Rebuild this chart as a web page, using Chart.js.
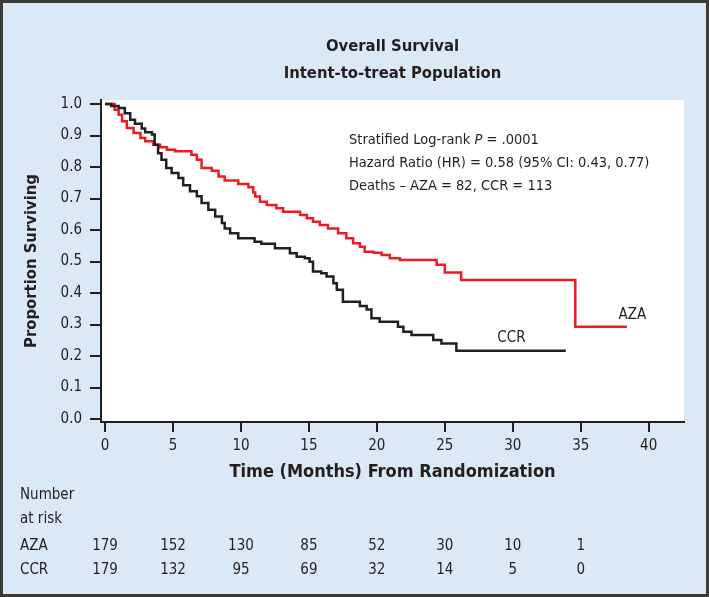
<!DOCTYPE html>
<html>
<head>
<meta charset="utf-8">
<script src="https://cdn.jsdelivr.net/npm/chart.js@4.4.1/dist/chart.umd.min.js"></script>
<style>
  html, body { margin: 0; padding: 0; background: #dbe8f5; }
  #wrap { width: 709px; height: 597px; }
</style>
</head>
<body>
<div id="wrap"><canvas id="chart" width="709" height="597"></canvas></div>
<script>
// Kaplan-Meier steps (month of drop, survival after drop)
const azaMonths = [0, 0.7, 1.0, 1.25, 1.6, 2.1, 2.6, 2.95, 3.55, 4.05,
  4.55, 5.15, 6.35, 6.75, 7.1, 7.85, 8.35, 8.8, 9.8, 10.55,
  10.9, 11.05, 11.4, 11.9, 12.6, 13.1, 14.35, 14.85, 15.3, 15.8,
  16.4, 17.15, 17.75, 18.25, 18.75, 19.1, 19.75, 20.35, 20.95, 21.7,
  24.4, 25.0, 26.2, 34.6, 38.4];
const azaSurvival = [1.0, 0.982, 0.966, 0.945, 0.924, 0.908, 0.892, 0.882, 0.871, 0.863,
  0.855, 0.850, 0.839, 0.823, 0.797, 0.788, 0.770, 0.757, 0.746, 0.736,
  0.719, 0.706, 0.690, 0.679, 0.669, 0.658, 0.648, 0.637, 0.626, 0.616,
  0.605, 0.590, 0.574, 0.558, 0.547, 0.531, 0.528, 0.521, 0.510, 0.505,
  0.490, 0.465, 0.441, 0.293, 0.293];

const ccrMonths = [0, 0.45, 1.0, 1.45, 1.85, 2.2, 2.7, 2.95, 3.45, 3.65,
  3.9, 4.15, 4.5, 4.9, 5.4, 5.75, 6.25, 6.75, 7.1, 7.6,
  8.1, 8.6, 8.8, 9.2, 9.8, 11.0, 11.5, 12.5, 13.6, 14.1,
  14.7, 15.05, 15.3, 15.9, 16.3, 16.8, 17.05, 17.5, 18.75, 19.25,
  19.6, 20.2, 21.55, 21.95, 22.55, 24.15, 24.75, 25.85, 33.9];
const ccrSurvival = [1.0, 0.994, 0.987, 0.971, 0.950, 0.937, 0.922, 0.910, 0.903, 0.871,
  0.844, 0.823, 0.797, 0.781, 0.765, 0.742, 0.723, 0.707, 0.686, 0.664,
  0.643, 0.622, 0.605, 0.590, 0.574, 0.563, 0.556, 0.542, 0.526, 0.515,
  0.510, 0.499, 0.468, 0.463, 0.452, 0.431, 0.410, 0.372, 0.359, 0.348,
  0.320, 0.309, 0.293, 0.277, 0.267, 0.251, 0.240, 0.217, 0.217];

// number at risk table
const riskMonths = [0, 5, 10, 15, 20, 25, 30, 35];
const azaAtRisk = [179, 152, 130, 85, 52, 30, 10, 1];
const ccrAtRisk = [179, 132, 95, 69, 32, 14, 5, 0];

const titleLines = ["Overall Survival", "Intent-to-treat Population"];
const statLines = [
  ["Stratified Log-rank ", "P", " = .0001"],
  ["Hazard Ratio (HR) = 0.58 (95% CI: 0.43, 0.77)"],
  ["Deaths \u2013 AZA = 82, CCR = 113"]
];

const FONT = "'Liberation Sans Narrow', 'Arial Narrow', 'DejaVu Sans Condensed', sans-serif";
const INK = "#231f20";
const RED = "#ed1c24";

function toPoints(xs, ys) {
  return xs.map((m, i) => ({ x: m, y: ys[i] }));
}

const decor = {
  id: "decor",
  beforeDraw(c) {
    const { ctx, chartArea: a } = c;
    ctx.save();
    ctx.fillStyle = "#dbe8f5";
    ctx.fillRect(0, 0, c.width, c.height);
    ctx.fillStyle = "#fff";
    ctx.fillRect(a.left, a.top, a.right - a.left, a.bottom - a.top);
    ctx.restore();
  },
  afterDraw(c) {
    const { ctx, chartArea: a, scales: { x, y } } = c;
    ctx.save();
    ctx.fillStyle = INK;
    ctx.textBaseline = "middle";

    // title
    ctx.textAlign = "center";
    ctx.font = `bold 16.5px ${FONT}`;
    const cx = (a.left + a.right) / 2;
    ctx.fillText(titleLines[0], cx, 47);
    ctx.fillText(titleLines[1], cx, 74);

    // stats block
    ctx.textAlign = "left";
    statLines.forEach((parts, i) => {
      let px = 349;
      const py = 140 + i * 23;
      parts.forEach((p, j) => {
        ctx.font = (parts.length > 1 && j === 1 ? "italic " : "") + `14.5px ${FONT}`;
        ctx.fillText(p, px, py);
        px += ctx.measureText(p).width;
      });
    });

    // curve labels
    ctx.textAlign = "center";
    ctx.font = `15px ${FONT}`;
    ctx.fillText("AZA", x.getPixelForValue(38.8), y.getPixelForValue(0.33));
    ctx.fillText("CCR", x.getPixelForValue(29.9), y.getPixelForValue(0.257));

    // number at risk
    ctx.textAlign = "left";
    ctx.fillText("Number", 20, 495);
    ctx.fillText("at risk", 20, 519);
    ctx.fillText("AZA", 20, 546);
    ctx.fillText("CCR", 20, 570);
    ctx.textAlign = "center";
    riskMonths.forEach((m, i) => {
      const px = x.getPixelForValue(m);
      ctx.fillText(String(azaAtRisk[i]), px, 546);
      ctx.fillText(String(ccrAtRisk[i]), px, 570);
    });

    // frame
    ctx.strokeStyle = "#3a3a3a";
    ctx.lineWidth = 3;
    ctx.strokeRect(1.5, 1.5, c.width - 3, c.height - 3);
    ctx.restore();
  }
};

new Chart(document.getElementById("chart"), {
  type: "line",
  data: {
    datasets: [
      {
        label: "CCR",
        data: toPoints(ccrMonths, ccrSurvival),
        borderColor: INK,
        borderWidth: 2.5,
        stepped: "before",
        pointRadius: 0,
        fill: false
      },
      {
        label: "AZA",
        data: toPoints(azaMonths, azaSurvival),
        borderColor: RED,
        borderWidth: 2.5,
        stepped: "before",
        pointRadius: 0,
        fill: false
      }
    ]
  },
  options: {
    responsive: false,
    animation: false,
    devicePixelRatio: 1,
    layout: { padding: { top: 100, right: 25, left: 0, bottom: 0 } },
    plugins: {
      legend: { display: false },
      tooltip: { enabled: false }
    },
    scales: {
      x: {
        type: "linear",
        min: -0.3,
        max: 42.6,
        afterFit(s) { s.height = 175; },
        ticks: {
          stepSize: 5,
          includeBounds: false,
          color: INK,
          padding: 5,
          font: { family: FONT, size: 15 },
          callback: v => v
        },
        grid: { drawOnChartArea: false, drawTicks: true, tickLength: 10, color: INK, lineWidth: 2 },
        border: { display: true, color: INK, width: 2 },
        title: {
          display: true,
          text: "Time (Months) From Randomization",
          color: INK,
          font: { family: FONT, size: 18, weight: "bold" },
          padding: { top: 0, bottom: 114 }
        }
      },
      y: {
        min: -0.0095,
        max: 1.0127,
        afterFit(s) { s.width = 101; },
        ticks: {
          stepSize: 0.1,
          includeBounds: false,
          color: INK,
          padding: 8,
          font: { family: FONT, size: 15 },
          callback: v => v.toFixed(1)
        },
        grid: { drawOnChartArea: false, drawTicks: true, tickLength: 11, color: INK, lineWidth: 2 },
        border: { display: true, color: INK, width: 2 },
        title: {
          display: true,
          text: "Proportion Surviving",
          color: INK,
          font: { family: FONT, size: 16.5, weight: "bold" },
          padding: { top: 22, bottom: 0 }
        }
      }
    }
  },
  plugins: [decor]
});
</script>
</body>
</html>
